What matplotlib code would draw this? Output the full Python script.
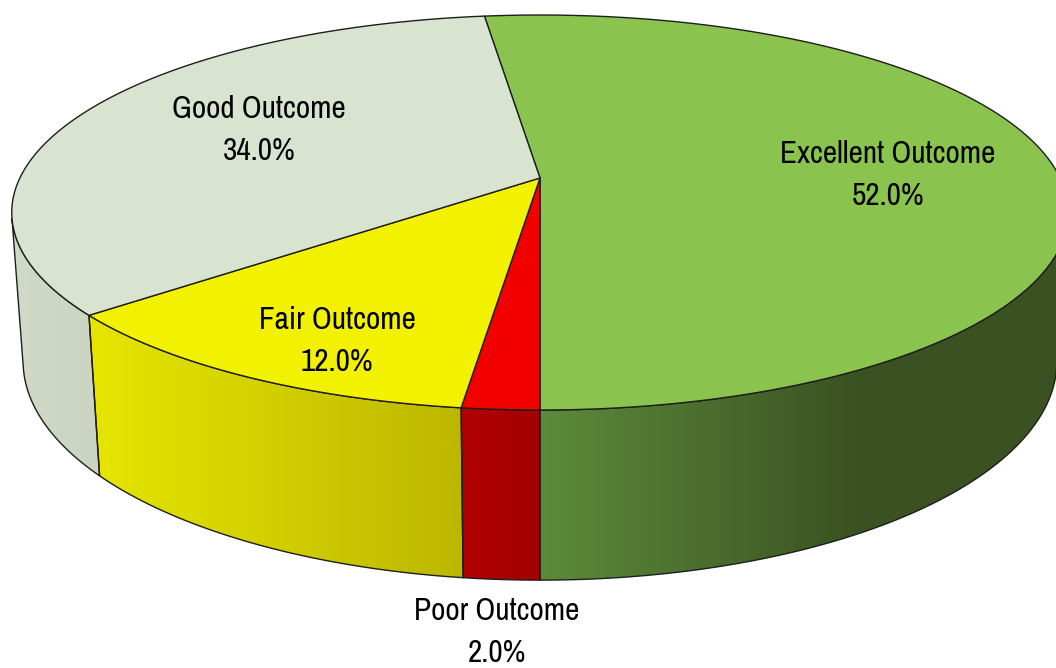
import numpy as np
import matplotlib.pyplot as plt
from matplotlib.patches import Polygon
from matplotlib.colors import to_rgb

# slices in clockwise order, starting just left of 12 o'clock
labels = ['Excellent Outcome', 'Poor Outcome', 'Fair Outcome', 'Good Outcome']
shares = [52.0, 2.0, 12.0, 34.0]
top_colors = ['#8bc34f', '#f20000', '#f2f200', '#d8e4cf']
side_colors = [('#5d8b3b', '#3a5221'), ('#b00000', '#a40000'),
               ('#e6e600', '#bcb700'), ('#d0dac6', '#cad4c0')]
side_ramp = [0.6, 1.0, 1.0, 1.0]
label_pos = [(888, 175), (497, 632), (337, 341), (259, 130)]

# perspective camera for the 3d disc (pixel units)
cx, cy = 540, 178
f, d, h = 2767.0, 5.32, 0.308
alpha = np.radians(21.6)
start = 97.2


def project(theta, z, r=1.0):
    X = r * np.cos(theta)
    Y = r * np.sin(theta)
    ca, sa = np.cos(alpha), np.sin(alpha)
    zc = d + Y * ca - z * sa
    yc = z * ca + Y * sa
    return cx + f * X / zc, cy - f * yc / zc


fig = plt.figure(figsize=(10.56, 6.68), dpi=100)
ax = fig.add_axes([0, 0, 1, 1])

bounds = np.radians(start - np.concatenate([[0], np.cumsum(shares)]) * 3.6)
lim = np.arcsin(1 / (d * np.cos(alpha)))
vis_lo, vis_hi = -np.pi + lim, -lim

# side walls
for i in range(len(shares)):
    lo = max(bounds[i + 1], vis_lo)
    hi = min(bounds[i], vis_hi)
    if hi <= lo:
        continue
    t = np.linspace(lo, hi, 200)
    xt, yt = project(t, 0.0)
    xb, yb = project(t[::-1], -h)
    pts = np.column_stack([np.concatenate([xt, xb]), np.concatenate([yt, yb])])
    poly = Polygon(pts, closed=True, facecolor='none', edgecolor='#1e1e1e',
                   linewidth=1.0, zorder=2)
    ax.add_patch(poly)
    x0, x1 = pts[:, 0].min(), pts[:, 0].max()
    frac = np.clip(np.linspace(0, 1, 256) / side_ramp[i], 0, 1)
    c0 = np.array(to_rgb(side_colors[i][0]))
    c1 = np.array(to_rgb(side_colors[i][1]))
    grad = (c0[None, :] * (1 - frac[:, None]) + c1[None, :] * frac[:, None])[None, :, :]
    im = ax.imshow(grad, extent=(x0, x1, pts[:, 1].max(), pts[:, 1].min()),
                   aspect='auto', interpolation='bilinear', zorder=1)
    im.set_clip_path(poly)

# top faces
for i in range(len(shares)):
    t = np.linspace(bounds[i + 1], bounds[i], 300)
    xt, yt = project(t, 0.0)
    pts = np.column_stack([np.concatenate([[cx], xt]), np.concatenate([[cy], yt])])
    ax.add_patch(Polygon(pts, closed=True, facecolor=top_colors[i],
                         edgecolor='#1e1e1e', linewidth=1.0, zorder=3))

for i in range(len(shares)):
    ax.text(label_pos[i][0], label_pos[i][1], f'{labels[i]}\n{shares[i]:.1f}%',
            ha='center', va='center', fontsize=22.5, linespacing=1.6,
            family=['Archivo Narrow', 'DejaVu Sans'], zorder=5)

ax.set_xlim(0, 1056)
ax.set_ylim(668, 0)
ax.axis('off')
fig.savefig('out.png', dpi=100)
